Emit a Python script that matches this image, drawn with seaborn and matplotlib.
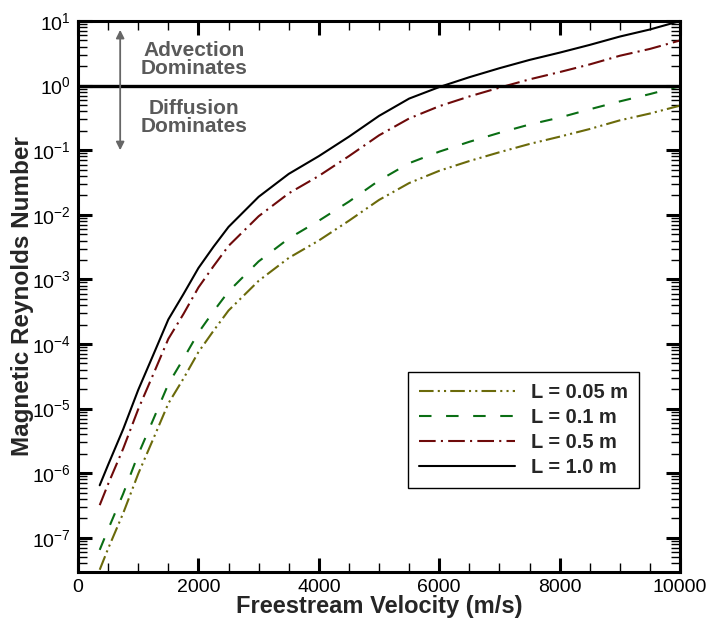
import numpy as np
import pandas as pd
import matplotlib
matplotlib.use("Agg")
import matplotlib.pyplot as plt
from matplotlib.ticker import MultipleLocator, LogLocator, NullFormatter
import seaborn as sns

# values
velocity = [360, 500, 750, 1000, 1250, 1500, 1750, 2000, 2250, 2500, 3000, 3500,
            4000, 4500, 5000, 5500, 6000, 6500, 7000, 7500, 8000, 8500, 9000, 9500, 10000]

rm_005 = [3.2e-8, 6.8e-8, 2.4e-7, 9.8e-7, 3.4e-6, 1.2e-5, 2.9e-5, 7.5e-5, 1.6e-4, 3.3e-4,
          9.5e-4, 2.15e-3, 4.0e-3, 8.1e-3, 1.7e-2, 3.1e-2, 4.8e-2, 6.8e-2, 9.3e-2, 0.125,
          0.162, 0.213, 0.29, 0.37, 0.49]
rm_01 = [6.5e-8, 1.35e-7, 4.8e-7, 1.95e-6, 6.8e-6, 2.4e-5, 5.9e-5, 1.5e-4, 3.2e-4, 6.5e-4,
         1.9e-3, 4.3e-3, 8.1e-3, 1.6e-2, 3.4e-2, 6.3e-2, 9.5e-2, 0.135, 0.186, 0.25,
         0.32, 0.43, 0.57, 0.74, 0.98]
rm_05 = [3.2e-7, 6.8e-7, 2.4e-6, 9.8e-6, 3.4e-5, 1.2e-4, 2.9e-4, 7.5e-4, 1.6e-3, 3.3e-3,
         9.5e-3, 2.15e-2, 4.0e-2, 8.1e-2, 0.17, 0.31, 0.48, 0.68, 0.93, 1.25,
         1.62, 2.13, 2.9, 3.7, 5.0]
rm_10 = [6.5e-7, 1.35e-6, 4.8e-6, 1.95e-5, 6.8e-5, 2.4e-4, 5.9e-4, 1.5e-3, 3.2e-3, 6.5e-3,
         1.9e-2, 4.3e-2, 8.1e-2, 0.162, 0.34, 0.63, 0.95, 1.35, 1.86, 2.5,
         3.24, 4.27, 5.75, 7.4, 10.0]

labels = ["L = 0.05 m", "L = 0.1 m", "L = 0.5 m", "L = 1.0 m"]
series = [rm_005, rm_01, rm_05, rm_10]
colors = ["#6b6a0a", "#0a6e14", "#6e0a0a", "#000000"]
styles = [(0, (7, 2, 1, 2, 1, 2)),
          (0, (6, 7)),
          (0, (8, 2.5, 1, 2.5)),
          "-"]
y_decades = [1e-7, 1e-6, 1e-5, 1e-4, 1e-3, 1e-2, 1e-1, 1e0, 1e1]

sns.set_style("ticks")
plt.rcParams["font.family"] = ["Liberation Sans", "DejaVu Sans"]
plt.rcParams["mathtext.default"] = "regular"

fig = plt.figure(figsize=(7.12, 6.24), dpi=100)
ax = fig.add_axes([0.1096, 0.0833, 0.8455, 0.883])

for lab, vals, col, ls in zip(labels, series, colors, styles):
    df = pd.DataFrame({"v": velocity, "Rm": vals})
    sns.lineplot(data=df, x="v", y="Rm", ax=ax, color=col, lw=1.5,
                 linestyle=ls, label=lab)

ax.set_yscale("log")
ax.set_xlim(0, 10000)
ax.set_ylim(10 ** -7.53, 10)

ax.axhline(1.0, color="black", lw=2.4, zorder=3)

# advection / diffusion annotation
ax.annotate("", xy=(700, 7.3), xytext=(700, 0.1),
            arrowprops=dict(arrowstyle="<|-|>", color="#666666", lw=1.3,
                            mutation_scale=12, shrinkA=0, shrinkB=0))
ax.text(1920, 2.53, "Advection\nDominates", ha="center", va="center",
        fontsize=15, fontweight="bold", color="#5a5a5a", linespacing=0.95)
ax.text(1920, 0.32, "Diffusion\nDominates", ha="center", va="center",
        fontsize=15, fontweight="bold", color="#5a5a5a", linespacing=0.95)

ax.xaxis.set_major_locator(MultipleLocator(2000))
ax.xaxis.set_minor_locator(MultipleLocator(500))
ax.set_yticks(y_decades)
ax.yaxis.set_minor_locator(LogLocator(base=10, subs=np.arange(2, 10), numticks=20))
ax.yaxis.set_minor_formatter(NullFormatter())

ax.tick_params(which="both", direction="in", top=True, right=True, colors="black")
ax.tick_params(which="major", length=10, width=2.2, labelsize=14, pad=5)
ax.tick_params(which="minor", length=6.5, width=1.0)
for sp in ax.spines.values():
    sp.set_linewidth(2.2)
    sp.set_color("black")

ax.set_xlabel("Freestream Velocity (m/s)", fontsize=17, fontweight="bold", labelpad=-1)
ax.set_ylabel("Magnetic Reynolds Number", fontsize=17.5, fontweight="bold", labelpad=-1)

leg = ax.legend(loc="upper left", bbox_to_anchor=(408 / 712, 1 - 372 / 624),
                bbox_transform=fig.transFigure, borderaxespad=0,
                prop={"size": 14.4, "weight": "bold"}, handlelength=4.8,
                handletextpad=0.8, labelspacing=0.3, borderpad=0.55,
                fancybox=False, framealpha=1, edgecolor="black")
leg.get_frame().set_linewidth(1.0)

fig.savefig("out.png", dpi=100)
